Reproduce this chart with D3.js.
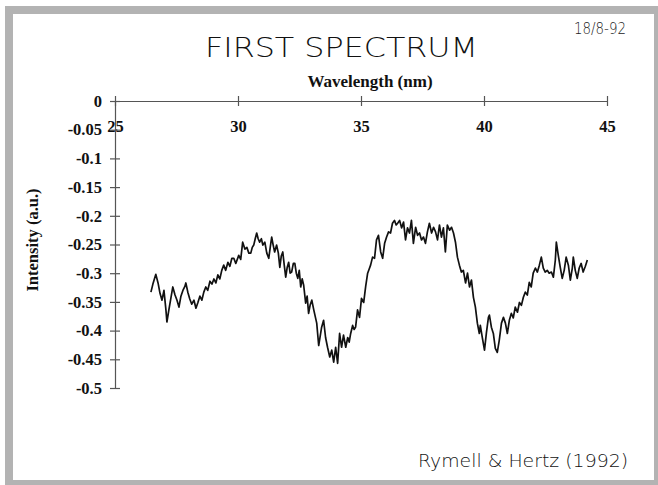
<!DOCTYPE html>
<html>
<head>
<meta charset="utf-8">
<script src="https://cdn.jsdelivr.net/npm/d3@7"></script>
<style>
  html, body { margin: 0; padding: 0; background: #ffffff; }
  svg { display: block; }
</style>
</head>
<body>
<svg id="chart" width="658" height="485"></svg>
<script>
// Measured spectrum: wavelength (nm) and intensity (a.u.)
const wavelength = [
  26.46, 26.54, 26.66, 26.75, 26.83, 26.91, 26.99, 27.07, 27.11, 27.19,
  27.27, 27.35, 27.44, 27.52, 27.60, 27.68, 27.76, 27.84, 27.88, 27.96,
  28.04, 28.12, 28.21, 28.29, 28.37, 28.45, 28.53, 28.61, 28.69, 28.77,
  28.86, 28.94, 29.02, 29.10, 29.18, 29.26, 29.34, 29.42, 29.50, 29.59,
  29.67, 29.75, 29.83, 29.91, 30.03, 30.11, 30.19, 30.28, 30.36, 30.44,
  30.52, 30.58, 30.64, 30.70, 30.76, 30.82, 30.88, 30.95, 31.01, 31.09,
  31.17, 31.25, 31.31, 31.37, 31.43, 31.49, 31.57, 31.64, 31.70, 31.76,
  31.82, 31.88, 31.94, 32.00, 32.06, 32.12, 32.18, 32.25, 32.31, 32.37,
  32.43, 32.49, 32.55, 32.61, 32.67, 32.75, 32.81, 32.87, 32.93, 33.00,
  33.08, 33.20, 33.28, 33.40, 33.48, 33.56, 33.64, 33.73, 33.81, 33.89,
  33.97, 34.05, 34.13, 34.21, 34.29, 34.38, 34.46, 34.52, 34.58, 34.66,
  34.72, 34.78, 34.86, 34.94, 35.02, 35.11, 35.19, 35.27, 35.33, 35.39,
  35.47, 35.55, 35.63, 35.71, 35.80, 35.88, 35.96, 36.04, 36.12, 36.20,
  36.28, 36.36, 36.43, 36.49, 36.57, 36.65, 36.73, 36.81, 36.89, 36.97,
  37.05, 37.13, 37.22, 37.30, 37.38, 37.46, 37.54, 37.62, 37.70, 37.78,
  37.87, 37.95, 38.03, 38.11, 38.19, 38.27, 38.35, 38.43, 38.51, 38.60,
  38.68, 38.76, 38.84, 38.92, 39.00, 39.08, 39.16, 39.25, 39.33, 39.41,
  39.49, 39.57, 39.65, 39.73, 39.81, 39.85, 39.93, 40.02, 40.10, 40.18,
  40.22, 40.30, 40.38, 40.46, 40.54, 40.62, 40.71, 40.79, 40.87, 40.95,
  41.03, 41.11, 41.19, 41.27, 41.36, 41.44, 41.52, 41.60, 41.68, 41.76,
  41.84, 41.92, 42.00, 42.09, 42.17, 42.25, 42.33, 42.41, 42.49, 42.57,
  42.65, 42.74, 42.82, 42.90, 42.94, 43.02, 43.10, 43.18, 43.26, 43.34,
  43.43, 43.51, 43.59, 43.63, 43.71, 43.79, 43.87, 43.95, 44.03, 44.12,
  44.20
];
const intensity = [
  -0.333, -0.319, -0.302, -0.317, -0.335, -0.347, -0.330, -0.364, -0.385, -0.364,
  -0.344, -0.324, -0.338, -0.347, -0.359, -0.340, -0.330, -0.323, -0.317, -0.333,
  -0.345, -0.354, -0.347, -0.361, -0.351, -0.340, -0.347, -0.333, -0.324, -0.330,
  -0.314, -0.319, -0.310, -0.317, -0.303, -0.310, -0.295, -0.286, -0.295, -0.281,
  -0.288, -0.274, -0.274, -0.283, -0.269, -0.276, -0.246, -0.258, -0.255, -0.265,
  -0.265, -0.255, -0.251, -0.240, -0.230, -0.240, -0.246, -0.240, -0.251, -0.246,
  -0.265, -0.274, -0.255, -0.237, -0.251, -0.263, -0.251, -0.265, -0.290, -0.270,
  -0.263, -0.286, -0.307, -0.290, -0.281, -0.300, -0.298, -0.283, -0.283, -0.300,
  -0.309, -0.295, -0.324, -0.310, -0.321, -0.352, -0.340, -0.370, -0.356, -0.347,
  -0.364, -0.387, -0.426, -0.394, -0.382, -0.412, -0.429, -0.446, -0.434, -0.455,
  -0.429, -0.457, -0.405, -0.429, -0.408, -0.429, -0.412, -0.420, -0.405, -0.391,
  -0.398, -0.394, -0.364, -0.377, -0.344, -0.351, -0.323, -0.300, -0.293, -0.286,
  -0.272, -0.274, -0.242, -0.234, -0.263, -0.274, -0.248, -0.237, -0.228, -0.230,
  -0.213, -0.208, -0.216, -0.213, -0.208, -0.221, -0.211, -0.242, -0.221, -0.230,
  -0.208, -0.248, -0.220, -0.234, -0.230, -0.242, -0.237, -0.248, -0.228, -0.213,
  -0.230, -0.220, -0.228, -0.242, -0.216, -0.237, -0.221, -0.263, -0.216, -0.225,
  -0.220, -0.230, -0.246, -0.272, -0.286, -0.298, -0.295, -0.317, -0.300, -0.324,
  -0.312, -0.342, -0.359, -0.387, -0.405, -0.391, -0.412, -0.434, -0.403, -0.377,
  -0.373, -0.394, -0.405, -0.431, -0.438, -0.417, -0.387, -0.377, -0.387, -0.405,
  -0.382, -0.370, -0.378, -0.359, -0.368, -0.351, -0.356, -0.342, -0.333, -0.338,
  -0.316, -0.324, -0.300, -0.291, -0.298, -0.286, -0.272, -0.291, -0.298, -0.295,
  -0.300, -0.298, -0.307, -0.277, -0.246, -0.269, -0.290, -0.309, -0.295, -0.272,
  -0.286, -0.312, -0.291, -0.272, -0.295, -0.309, -0.291, -0.283, -0.298, -0.288,
  -0.277
];

// Axis ticks and their printed labels
const xTicks = [25, 30, 35, 40, 45];
const xTickLabels = ["25", "30", "35", "40", "45"];
const yTicks = [0, -0.05, -0.1, -0.15, -0.2, -0.25, -0.3, -0.35, -0.4, -0.45, -0.5];
const yTickLabels = ["0", "-0.05", "-0.1", "-0.15", "-0.2", "-0.25", "-0.3", "-0.35", "-0.4", "-0.45", "-0.5"];

const svg = d3.select("#chart");
const W = 658, H = 485;

// Sheet with grey frame
svg.append("rect").attr("x", 0).attr("y", 0).attr("width", W).attr("height", H).attr("fill", "#ffffff");
svg.append("rect").attr("x", 5).attr("y", 6).attr("width", W - 5).attr("height", H - 6).attr("fill", "#b3b3b3");
svg.append("rect").attr("x", 13).attr("y", 14).attr("width", 641).attr("height", 466).attr("fill", "#ffffff");

const plot = { left: 115, right: 607, top: 101, bottom: 388 };

const x = d3.scaleLinear().domain([25, 45]).range([plot.left, plot.right]);
const y = d3.scaleLinear().domain([0, -0.5]).range([plot.top, plot.bottom]);

const serif = "'Liberation Serif', 'Times New Roman', serif";
const hand = "'DejaVu Sans', sans-serif";
const labelSize = 16.5;

// X axis along the zero line, labels beneath
const xAxis = svg.append("g")
  .attr("transform", `translate(0,${y(0)})`)
  .call(d3.axisBottom(x).tickValues(xTicks).tickFormat((d, i) => xTickLabels[i]).tickSize(0).tickPadding(19));
xAxis.select(".domain").attr("stroke", "#555").attr("stroke-width", 1.2);
xAxis.selectAll(".tick line").attr("y1", -5).attr("y2", 5).attr("stroke", "#555").attr("stroke-width", 1.2);
xAxis.selectAll(".tick text")
  .attr("font-family", serif).attr("font-weight", "bold").attr("font-size", labelSize).attr("fill", "#111");

// Y axis
const yAxis = svg.append("g")
  .attr("transform", `translate(${x(25)},0)`)
  .call(d3.axisLeft(y).tickValues(yTicks).tickFormat((d, i) => yTickLabels[i]).tickSize(0).tickPadding(13));
yAxis.select(".domain").attr("stroke", "#555").attr("stroke-width", 1.2);
yAxis.selectAll(".tick line").attr("x1", -5).attr("x2", 5).attr("stroke", "#555").attr("stroke-width", 1.2);
yAxis.selectAll(".tick text")
  .attr("font-family", serif).attr("font-weight", "bold").attr("font-size", labelSize).attr("fill", "#111");

// Axis titles
svg.append("text")
  .attr("x", 370).attr("y", 87)
  .attr("text-anchor", "middle")
  .attr("font-family", serif).attr("font-weight", "bold").attr("font-size", 17).attr("fill", "#111")
  .text("Wavelength (nm)");

svg.append("text")
  .attr("transform", "translate(38,240) rotate(-90)")
  .attr("text-anchor", "middle")
  .attr("font-family", serif).attr("font-weight", "bold").attr("font-size", 16.5).attr("fill", "#111")
  .text("Intensity (a.u.)");

// Spectrum trace
const points = wavelength.map((w, i) => [w, intensity[i]]);
svg.append("path")
  .datum(points)
  .attr("fill", "none")
  .attr("stroke", "#111")
  .attr("stroke-width", 1.7)
  .attr("stroke-linejoin", "round")
  .attr("d", d3.line().x(d => x(d[0])).y(d => y(d[1])));

// Hand-written annotations
svg.append("text")
  .attr("x", 205).attr("y", 57)
  .attr("textLength", 273).attr("lengthAdjust", "spacingAndGlyphs")
  .attr("font-family", hand).attr("font-weight", 200).attr("font-size", 27).attr("fill", "#111")
  .text("FIRST SPECTRUM");

svg.append("text")
  .attr("x", 574).attr("y", 34)
  .attr("textLength", 52).attr("lengthAdjust", "spacingAndGlyphs")
  .attr("font-family", hand).attr("font-weight", 200).attr("font-size", 15).attr("fill", "#222")
  .text("18/8-92");

svg.append("text")
  .attr("x", 418).attr("y", 467)
  .attr("textLength", 210).attr("lengthAdjust", "spacingAndGlyphs")
  .attr("font-family", hand).attr("font-weight", 200).attr("font-size", 18).attr("fill", "#111")
  .text("Rymell & Hertz (1992)");
</script>
</body>
</html>
